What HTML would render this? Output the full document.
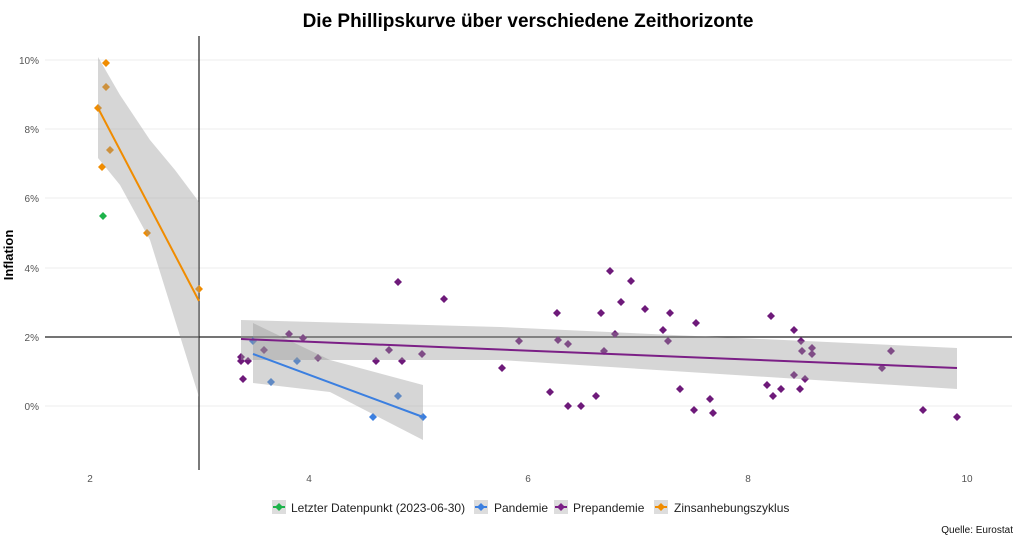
<!DOCTYPE html>
<html><head><meta charset="utf-8"><style>
body{margin:0;background:#fff;font-family:"Liberation Sans",sans-serif}
</style></head><body>
<svg width="1024" height="543" xmlns="http://www.w3.org/2000/svg" font-family="Liberation Sans, sans-serif">
<rect width="1024" height="543" fill="#fff"/>
<text x="528" y="27" text-anchor="middle" font-size="19" font-weight="bold" fill="#000">Die Phillipskurve über verschiedene Zeithorizonte</text>
<g stroke="#eee" stroke-width="1">
<line x1="45" x2="1012" y1="60" y2="60"/><line x1="45" x2="1012" y1="129" y2="129"/>
<line x1="45" x2="1012" y1="198" y2="198"/><line x1="45" x2="1012" y1="268" y2="268"/>
<line x1="45" x2="1012" y1="406" y2="406"/>
</g>
<g font-size="10" fill="#555" text-anchor="end">
<text x="39" y="64">10%</text><text x="39" y="133">8%</text><text x="39" y="202">6%</text>
<text x="39" y="272">4%</text><text x="39" y="341">2%</text><text x="39" y="410">0%</text>
</g>
<g font-size="10" fill="#555" text-anchor="middle">
<text x="90" y="482">2</text><text x="309" y="482">4</text><text x="528" y="482">6</text><text x="748" y="482">8</text><text x="967" y="482">10</text>
</g>
<text transform="translate(13,255) rotate(-90)" text-anchor="middle" font-size="13" font-weight="bold">Inflation</text>
<line x1="199" x2="199" y1="36" y2="470" stroke="#222" stroke-width="1.2"/>
<line x1="45" x2="1012" y1="337" y2="337" stroke="#222" stroke-width="1.2"/>
<g>
<g fill="#f08c00"><path d="M106 59l4 4-4 4-4-4z"/><path d="M106 83l4 4-4 4-4-4z"/><path d="M98 104l4 4-4 4-4-4z"/><path d="M110 146l4 4-4 4-4-4z"/><path d="M102 163l4 4-4 4-4-4z"/><path d="M147 229l4 4-4 4-4-4z"/><path d="M199 285l4 4-4 4-4-4z"/></g>
<path d="M103 212l4 4-4 4-4-4z" fill="#1db34a"/>
<g fill="#3b7fe0"><path d="M253 337l4 4-4 4-4-4z"/><path d="M271 378l4 4-4 4-4-4z"/><path d="M297 357l4 4-4 4-4-4z"/><path d="M373 413l4 4-4 4-4-4z"/><path d="M398 392l4 4-4 4-4-4z"/><path d="M423 413l4 4-4 4-4-4z"/></g>
<g fill="#6e1a7a" id="pp">
<path d="M241 353l4 4-4 4-4-4z"/><path d="M241 357l4 4-4 4-4-4z"/><path d="M248 357l4 4-4 4-4-4z"/><path d="M243 375l4 4-4 4-4-4z"/><path d="M264 346l4 4-4 4-4-4z"/><path d="M289 330l4 4-4 4-4-4z"/><path d="M303 334l4 4-4 4-4-4z"/><path d="M318 354l4 4-4 4-4-4z"/><path d="M376 357l4 4-4 4-4-4z"/><path d="M389 346l4 4-4 4-4-4z"/><path d="M402 357l4 4-4 4-4-4z"/><path d="M398 278l4 4-4 4-4-4z"/><path d="M422 350l4 4-4 4-4-4z"/><path d="M444 295l4 4-4 4-4-4z"/><path d="M502 364l4 4-4 4-4-4z"/><path d="M519 337l4 4-4 4-4-4z"/><path d="M550 388l4 4-4 4-4-4z"/><path d="M557 309l4 4-4 4-4-4z"/><path d="M558 336l4 4-4 4-4-4z"/><path d="M568 340l4 4-4 4-4-4z"/><path d="M568 402l4 4-4 4-4-4z"/><path d="M581 402l4 4-4 4-4-4z"/><path d="M596 392l4 4-4 4-4-4z"/><path d="M601 309l4 4-4 4-4-4z"/><path d="M604 347l4 4-4 4-4-4z"/><path d="M610 267l4 4-4 4-4-4z"/><path d="M615 330l4 4-4 4-4-4z"/><path d="M621 298l4 4-4 4-4-4z"/><path d="M631 277l4 4-4 4-4-4z"/><path d="M645 305l4 4-4 4-4-4z"/><path d="M663 326l4 4-4 4-4-4z"/><path d="M668 337l4 4-4 4-4-4z"/><path d="M670 309l4 4-4 4-4-4z"/><path d="M680 385l4 4-4 4-4-4z"/><path d="M694 406l4 4-4 4-4-4z"/><path d="M696 319l4 4-4 4-4-4z"/><path d="M710 395l4 4-4 4-4-4z"/><path d="M713 409l4 4-4 4-4-4z"/><path d="M771 312l4 4-4 4-4-4z"/><path d="M767 381l4 4-4 4-4-4z"/><path d="M773 392l4 4-4 4-4-4z"/><path d="M781 385l4 4-4 4-4-4z"/><path d="M794 326l4 4-4 4-4-4z"/><path d="M801 337l4 4-4 4-4-4z"/><path d="M802 347l4 4-4 4-4-4z"/><path d="M794 371l4 4-4 4-4-4z"/><path d="M800 385l4 4-4 4-4-4z"/><path d="M805 375l4 4-4 4-4-4z"/><path d="M812 350l4 4-4 4-4-4z"/><path d="M812 344l4 4-4 4-4-4z"/><path d="M882 364l4 4-4 4-4-4z"/><path d="M891 347l4 4-4 4-4-4z"/><path d="M923 406l4 4-4 4-4-4z"/><path d="M957 413l4 4-4 4-4-4z"/>
</g>
</g>
<g fill="#999" fill-opacity="0.4">
<path d="M98 57 L120 95 L150 140 L175 170 L199 202 L199 397 L175 320 L150 240 L120 185 L98 158Z"/>
<path d="M241 320 L500 327 L957 348 L957 389 L500 360 L241 360Z"/>
<path d="M253 323 L330 360 L423 385 L423 440 L330 392 L253 383Z"/>
</g>
<line x1="98" y1="108" x2="199" y2="301" stroke="#f08c00" stroke-width="2"/>
<line x1="241" y1="339" x2="957" y2="368" stroke="#7b1f86" stroke-width="2"/>
<line x1="253" y1="354" x2="423" y2="417" stroke="#3b7fe0" stroke-width="2"/>
<g font-size="12" fill="#222">
<rect x="272" y="500" width="14" height="14" fill="#ddd"/><path d="M279 503l4 4-4 4-4-4z" fill="#1db34a"/><line x1="273" y1="507" x2="285" y2="507" stroke="#1db34a" stroke-width="2"/>
<text x="291" y="512">Letzter Datenpunkt (2023-06-30)</text>
<rect x="474" y="500" width="14" height="14" fill="#ddd"/><path d="M481 503l4 4-4 4-4-4z" fill="#3b7fe0"/><line x1="475" y1="507" x2="487" y2="507" stroke="#3b7fe0" stroke-width="2"/>
<text x="494" y="512">Pandemie</text>
<rect x="554" y="500" width="14" height="14" fill="#ddd"/><path d="M561 503l4 4-4 4-4-4z" fill="#7b1f86"/><line x1="555" y1="507" x2="567" y2="507" stroke="#7b1f86" stroke-width="2"/>
<text x="573" y="512">Prepandemie</text>
<rect x="654" y="500" width="14" height="14" fill="#ddd"/><path d="M661 503l4 4-4 4-4-4z" fill="#f08c00"/><line x1="655" y1="507" x2="667" y2="507" stroke="#f08c00" stroke-width="2"/>
<text x="674" y="512">Zinsanhebungszyklus</text>
</g>
<text x="1013" y="533" text-anchor="end" font-size="10" fill="#111">Quelle: Eurostat</text>
</svg>
</body></html>
